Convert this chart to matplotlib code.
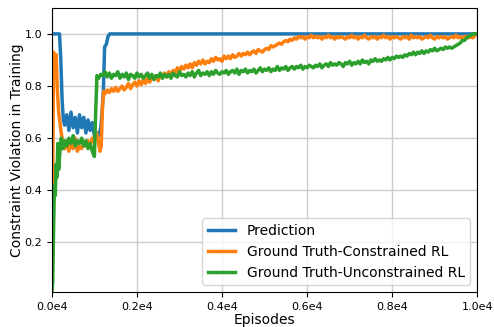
import numpy as np
import matplotlib
matplotlib.use("Agg")
import matplotlib.pyplot as plt

# values
pred_x = [0, 100, 180, 210, 240, 270, 300, 350, 400, 450, 500, 550, 600, 650, 700,
          750, 800, 850, 900, 950, 1000, 1050, 1100, 1150, 1180, 1210, 1240, 1280,
          1320, 1360, 2000, 3000, 4000, 5000, 6000, 7000, 8000, 9000, 10000]
pred_y = [1.0, 1.0, 1.0, 0.9, 0.75, 0.67, 0.65, 0.69, 0.63, 0.70, 0.64, 0.68, 0.62,
          0.69, 0.64, 0.68, 0.62, 0.67, 0.63, 0.66, 0.61, 0.62, 0.61, 0.64, 0.70,
          0.78, 0.95, 0.96, 0.99, 1.0, 1.0, 1.0, 1.0, 1.0, 1.0, 1.0, 1.0, 1.0, 1.0]

con_x = [0, 20, 40, 60, 80, 100, 130, 160, 190, 220, 260, 300, 350, 400, 450, 500,
         550, 600, 650, 700, 750, 800, 850, 900, 950, 1000, 1050, 1100, 1130, 1160,
         1190, 1220] + list(range(1250, 10001, 50))
con_y = [0.02, 0.45, 0.93, 0.90, 0.85, 0.92, 0.78, 0.70, 0.66, 0.62, 0.58, 0.56,
         0.59, 0.55, 0.58, 0.56, 0.60, 0.55, 0.57, 0.56, 0.58, 0.57, 0.59, 0.57,
         0.60, 0.59, 0.62, 0.58, 0.55, 0.57, 0.72, 0.78,
         # 1250 - 1700
         0.77, 0.785, 0.775, 0.79, 0.78, 0.795, 0.78, 0.79, 0.80, 0.785,
         # 1750 - 2200
         0.795, 0.81, 0.79, 0.805, 0.815, 0.80, 0.82, 0.805, 0.825, 0.81,
         # 2250 - 2700
         0.83, 0.815, 0.835, 0.825, 0.84, 0.82, 0.845, 0.835, 0.85, 0.835,
         # 2750 - 3200
         0.855, 0.84, 0.86, 0.85, 0.87, 0.855, 0.875, 0.865, 0.88, 0.87,
         # 3250 - 3700
         0.885, 0.87, 0.89, 0.88, 0.895, 0.885, 0.90, 0.885, 0.895, 0.89,
         # 3750 - 4200
         0.905, 0.895, 0.91, 0.90, 0.905, 0.895, 0.915, 0.905, 0.915, 0.905,
         # 4250 - 4700
         0.92, 0.91, 0.915, 0.925, 0.915, 0.925, 0.92, 0.93, 0.92, 0.93,
         # 4750 - 5200
         0.935, 0.925, 0.94, 0.935, 0.93, 0.94, 0.945, 0.94, 0.955, 0.95,
         # 5250 - 5700
         0.955, 0.96, 0.965, 0.96, 0.97, 0.975, 0.97, 0.98, 0.975, 0.985,
         # 5750 - 6200
         0.98, 0.99, 0.985, 0.99, 0.98, 0.99, 0.985, 0.995, 0.985, 0.99,
         # 6250 - 6700
         0.985, 0.99, 0.98, 0.99, 0.985, 0.995, 0.985, 0.99, 0.98, 0.99,
         # 6750 - 7200
         0.985, 0.99, 0.985, 0.98, 0.99, 0.985, 0.995, 0.985, 0.99, 0.98,
         # 7250 - 7700
         0.99, 0.985, 0.995, 0.985, 0.98, 0.99, 0.985, 0.99, 0.98, 0.99,
         # 7750 - 8200
         0.985, 0.995, 0.985, 0.99, 0.98, 0.99, 0.985, 0.99, 0.985, 0.98,
         # 8250 - 8700
         0.99, 0.985, 0.99, 0.98, 0.995, 0.985, 0.99, 0.985, 0.99, 0.98,
         # 8750 - 9200
         0.985, 0.99, 0.985, 0.995, 0.985, 0.98, 0.99, 0.985, 0.99, 0.985,
         # 9250 - 9700
         0.99, 0.98, 0.985, 0.99, 0.985, 0.995, 0.985, 0.99, 0.98, 0.99,
         # 9750 - 10000
         0.99, 0.985, 0.99, 0.985, 0.995, 1.0]

unc_x = [0, 20, 40, 60, 80, 100, 120, 140, 160, 190, 220, 260, 300, 350, 400, 450,
         500, 550, 600, 650, 700, 750, 800, 850, 900, 950, 1000, 1030, 1060,
         1100, 1150] + list(range(1200, 10001, 50))
unc_y = [0.01, 0.05, 0.25, 0.42, 0.38, 0.50, 0.45, 0.58, 0.48, 0.55, 0.60, 0.56,
         0.59, 0.57, 0.60, 0.58, 0.61, 0.57, 0.59, 0.58, 0.60, 0.57, 0.59, 0.56,
         0.58, 0.55, 0.53, 0.70, 0.84, 0.83, 0.845,
         # 1200 - 1650
         0.84, 0.855, 0.835, 0.85, 0.83, 0.845, 0.84, 0.855, 0.83, 0.845,
         # 1700 - 2150
         0.835, 0.85, 0.825, 0.845, 0.84, 0.83, 0.85, 0.835, 0.845, 0.83,
         # 2200 - 2650
         0.84, 0.85, 0.83, 0.845, 0.825, 0.84, 0.835, 0.85, 0.83, 0.845,
         # 2700 - 3150
         0.835, 0.845, 0.83, 0.85, 0.84, 0.835, 0.855, 0.84, 0.845, 0.835,
         # 3200 - 3650
         0.85, 0.84, 0.855, 0.835, 0.85, 0.86, 0.84, 0.85, 0.845, 0.855,
         # 3700 - 4150
         0.84, 0.855, 0.845, 0.86, 0.85, 0.845, 0.855, 0.85, 0.86, 0.845,
         # 4200 - 4650
         0.855, 0.86, 0.85, 0.865, 0.845, 0.86, 0.855, 0.865, 0.85, 0.86,
         # 4700 - 5150
         0.855, 0.865, 0.85, 0.86, 0.87, 0.855, 0.865, 0.86, 0.87, 0.855,
         # 5200 - 5650
         0.865, 0.86, 0.875, 0.86, 0.87, 0.865, 0.875, 0.86, 0.87, 0.875,
         # 5700 - 6150
         0.865, 0.875, 0.87, 0.88, 0.865, 0.875, 0.87, 0.88, 0.875, 0.87,
         # 6200 - 6650
         0.88, 0.875, 0.885, 0.87, 0.88, 0.885, 0.875, 0.89, 0.88, 0.885,
         # 6700 - 7150
         0.88, 0.89, 0.885, 0.875, 0.89, 0.885, 0.895, 0.88, 0.89, 0.885,
         # 7200 - 7650
         0.895, 0.885, 0.90, 0.89, 0.895, 0.885, 0.90, 0.895, 0.905, 0.895,
         # 7700 - 8150
         0.90, 0.895, 0.905, 0.90, 0.91, 0.90, 0.91, 0.905, 0.915, 0.91,
         # 8200 - 8650
         0.915, 0.91, 0.92, 0.915, 0.925, 0.92, 0.93, 0.92, 0.93, 0.925,
         # 8700 - 9150
         0.935, 0.925, 0.935, 0.93, 0.94, 0.935, 0.945, 0.935, 0.94, 0.945,
         # 9200 - 9650
         0.94, 0.95, 0.945, 0.95, 0.945, 0.95, 0.955, 0.96, 0.965,
         0.975,
         # 9700 - 10000
         0.975, 0.985, 0.99, 0.995, 1.0, 1.0, 1.0]

labels = ["Prediction", "Ground Truth-Constrained RL", "Ground Truth-Unconstrained RL"]
xticks = [0, 2000, 4000, 6000, 8000, 10000]
xtick_labels = ["0.0e4", "0.2e4", "0.4e4", "0.6e4", "0.8e4", "1.0e4"]
yticks = [0.2, 0.4, 0.6, 0.8, 1.0]

fig = plt.figure(figsize=(4.94, 3.27), dpi=100)
ax = fig.add_axes([0.105, 0.107, 0.861, 0.869])
ax.plot(pred_x, pred_y, color="C0", lw=2.5, label=labels[0])
ax.plot(con_x, con_y, color="C1", lw=2.5, label=labels[1])
ax.plot(unc_x, unc_y, color="C2", lw=2.5, label=labels[2])

ax.set_xlim(0, 10000)
ax.set_ylim(0.01, 1.1)
ax.set_xticks(xticks)
ax.set_xticklabels(xtick_labels)
ax.set_yticks(yticks)
ax.tick_params(labelsize=8)
ax.grid(True, color="#cccccc", lw=1)
ax.set_xlabel("Episodes", fontsize=10, labelpad=1)
ax.set_ylabel("Constraint Violation in Training", fontsize=10, labelpad=0)
ax.legend(loc="lower right", fontsize=10)

fig.savefig("out.png", dpi=100)
